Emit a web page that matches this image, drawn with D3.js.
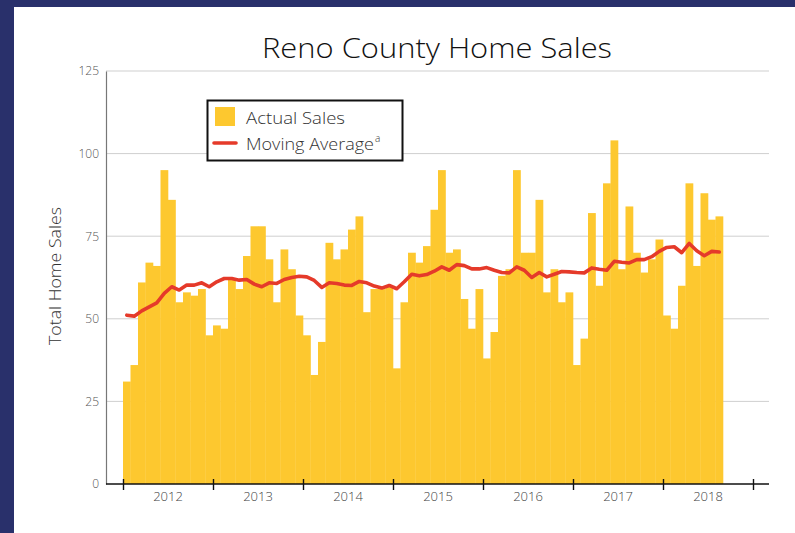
<!DOCTYPE html>
<html><head><meta charset="utf-8">
<script src="https://cdn.jsdelivr.net/npm/d3@7"></script>
<style>
html,body{margin:0;padding:0;background:#fff;}
svg{display:block;font-family:"Open Sans","Noto Sans",sans-serif;}
</style></head>
<body><svg id="c" width="795" height="533"></svg>
<script>
const title = "Reno County Home Sales";
const yLabel = "Total Home Sales";
const years = ["2012","2013","2014","2015","2016","2017","2018"];
const yTicks = [0,25,50,75,100,125];
const sales = [31,36,61,67,66,95,86,55,58,57,59,45,
  48,47,62,59,69,78,78,68,55,71,65,51,
  45,33,43,73,68,71,77,81,52,59,59,60,
  35,55,70,67,72,83,95,70,71,56,47,59,
  38,46,63,65,95,70,70,86,58,65,55,58,
  36,44,82,60,91,104,65,84,70,64,68,74,
  51,47,60,91,66,88,80,81];
const movingAvg = [51.1,50.8,52.4,53.6,54.8,57.7,59.7,58.7,60.2,60.2,60.9,59.7,
  61.2,62.2,62.2,61.7,61.9,60.5,59.7,60.9,60.7,61.9,62.5,62.9,
  62.7,61.6,59.5,60.9,60.7,60.2,60.1,61.3,60.9,59.9,59.3,60.1,
  59.1,61.2,63.5,63.0,63.4,64.4,65.7,64.7,66.4,66.1,65.1,65.1,
  65.5,64.7,64.0,63.9,65.7,64.7,62.5,64.0,62.7,63.5,64.3,64.2,
  64.0,63.9,65.4,65.0,64.7,67.4,67.1,66.9,67.9,67.9,68.8,70.4,
  71.6,71.8,70.0,72.8,70.6,69.1,70.4,70.2];

const svg = d3.select("#c");
// frame
svg.append("rect").attr("x",0).attr("y",0).attr("width",795).attr("height",7).attr("fill","#29306b");
svg.append("rect").attr("x",0).attr("y",0).attr("width",14).attr("height",533).attr("fill","#29306b");

const x = d3.scaleLinear().domain([0,84]).range([123,753]);
const y = d3.scaleLinear().domain([0,125]).range([484,71]);
const xLeft = 106, xRight = 769;

// gridlines
svg.append("g").selectAll("line").data(yTicks.filter(d=>d>0)).join("line")
  .attr("x1",xLeft).attr("x2",xRight).attr("y1",d=>y(d)).attr("y2",d=>y(d))
  .attr("stroke","#cfcfcf").attr("stroke-width",1);

// bars
svg.append("g").selectAll("rect").data(sales).join("rect")
  .attr("x",(d,i)=>x(i)).attr("width",(d,i)=>x(i+1)-x(i)+0.3)
  .attr("y",d=>y(d)).attr("height",d=>y(0)-y(d))
  .attr("fill","#fdc82f");

// moving average
const line = d3.line().x((d,i)=>x(i+0.5)).y(d=>y(d));
svg.append("path").datum(movingAvg).attr("d",line)
  .attr("fill","none").attr("stroke","#e53a2a").attr("stroke-width",3.6)
  .attr("stroke-linejoin","round").attr("stroke-linecap","round");

// y axis
const yAxis = svg.append("g").attr("transform",`translate(${xLeft},0)`)
  .call(d3.axisLeft(y).tickValues(yTicks).tickSize(0).tickPadding(7));
yAxis.select(".domain").attr("stroke","#777").attr("stroke-width",1.2);
yAxis.selectAll("text").attr("fill","#555").attr("font-size",12).attr("font-family","'Open Sans', 'Noto Sans', sans-serif").attr("font-weight",300);

// x axis
const xAxis = svg.append("g").attr("transform",`translate(0,${y(0)})`)
  .call(d3.axisBottom(x).tickValues(d3.range(0,85,12)).tickFormat("").tickSize(6));
xAxis.select(".domain").attr("d",`M${xLeft},0H${xRight}`).attr("stroke","#111").attr("stroke-width",1.4);
xAxis.selectAll(".tick line").attr("y1",-5).attr("y2",6).attr("stroke","#111").attr("stroke-width",1.4);
svg.append("g").selectAll("text").data(years).join("text")
  .attr("x",(d,i)=>x(i*12+6)).attr("y",498).attr("text-anchor","middle")
  .attr("dominant-baseline","middle")
  .attr("font-size",13).attr("fill","#444").attr("font-weight",300).text(d=>d);

// y label
svg.append("text").attr("transform","translate(61,276) rotate(-90)")
  .attr("text-anchor","middle").attr("font-size",17).attr("fill","#333").attr("font-weight",300)
  .attr("textLength",138).attr("lengthAdjust","spacingAndGlyphs")
  .text(yLabel);

// title
svg.append("text").attr("x",437).attr("y",58).attr("text-anchor","middle")
  .attr("font-size",28).attr("fill","#111").attr("font-weight",300)
  .attr("textLength",350).attr("lengthAdjust","spacingAndGlyphs").text(title);

// legend
const lg = svg.append("g");
lg.append("rect").attr("x",207.5).attr("y",100.5).attr("width",195).attr("height",60)
  .attr("fill","#fff").attr("stroke","#111").attr("stroke-width",2);
lg.append("rect").attr("x",215).attr("y",107).attr("width",20).attr("height",19).attr("fill","#fdc82f");
lg.append("line").attr("x1",214).attr("x2",236).attr("y1",143).attr("y2",143)
  .attr("stroke","#e53a2a").attr("stroke-width",3.6).attr("stroke-linecap","round");
lg.append("text").attr("x",246).attr("y",124).attr("font-size",17).attr("fill","#333").attr("font-weight",300)
  .attr("textLength",99).attr("lengthAdjust","spacingAndGlyphs").text("Actual Sales");
const t2 = lg.append("text").attr("x",246).attr("y",150).attr("font-size",17).attr("fill","#333").attr("font-weight",300);
t2.append("tspan").attr("textLength",128).attr("lengthAdjust","spacingAndGlyphs").text("Moving Average");
t2.append("tspan").attr("font-size",10).attr("dy",-8).attr("dx",1).text("a");
</script></body></html>
